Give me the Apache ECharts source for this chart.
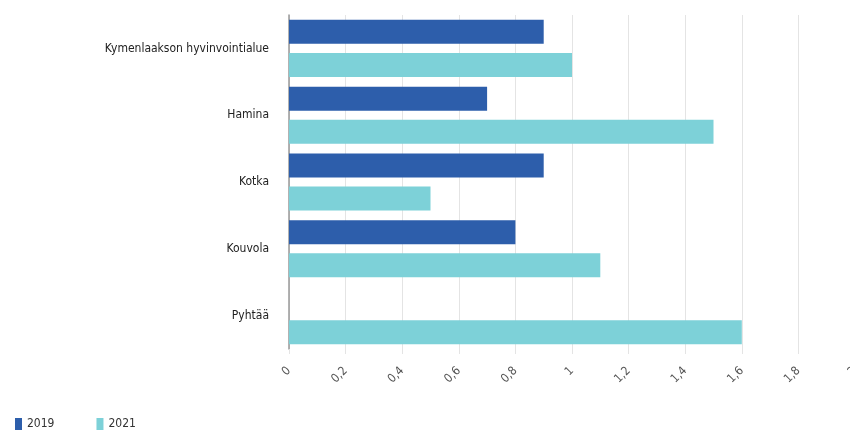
<!DOCTYPE html>
<html>
<head>
<meta charset="utf-8">
<script src="https://cdn.jsdelivr.net/npm/echarts@6/dist/echarts.min.js"></script>
<style>
  html, body { margin: 0; padding: 0; background: #fff; }
  #chart { width: 850px; height: 437px; }
</style>
</head>
<body>
<div id="chart"></div>
<script>
var categories = ['Kymenlaakson hyvinvointialue', 'Hamina', 'Kotka', 'Kouvola', 'Pyhtää'];
var values2019 = [0.9, 0.7, 0.9, 0.8, null];
var values2021 = [1.0, 1.5, 0.5, 1.1, 1.6];
var seriesNames = ['2019', '2021'];

var font = '"Liberation Sans Narrow", "DejaVu Sans Condensed", sans-serif';
var myChart = echarts.init(document.getElementById('chart'));

var option = {
    animation: false,
    textStyle: { fontFamily: font },
    legend: {
        left: 10,
        bottom: 2,
        itemWidth: 7,
        itemHeight: 12,
        itemGap: 42,
        icon: 'rect',
        textStyle: { fontFamily: font, fontSize: 12, color: '#333' },
        data: seriesNames
    },
    grid: {
        left: 289,
        right: -5,
        top: 15,
        bottom: 88,
        outerBoundsMode: 'none'
    },
    xAxis: {
        type: 'value',
        min: 0,
        max: 2,
        interval: 0.2,
        axisLine: { show: false },
        axisTick: { show: true, length: 5, lineStyle: { color: '#e4e4e4' } },
        splitLine: { show: true, lineStyle: { color: '#e4e4e4' } },
        axisLabel: {
            rotate: 45,
            margin: 20,
            color: '#555',
            fontSize: 12,
            fontFamily: font,
            formatter: function (v) { return String(+v.toFixed(1)).replace('.', ','); }
        }
    },
    yAxis: {
        type: 'category',
        inverse: true,
        data: categories,
        axisLine: { show: true, lineStyle: { color: '#999', width: 1.5 } },
        axisTick: { show: false },
        axisLabel: { color: '#222', fontSize: 12, margin: 20, fontFamily: font }
    },
    series: [
        {
            name: seriesNames[0],
            type: 'bar',
            data: values2019,
            barWidth: 24,
            barGap: '38%',
            itemStyle: { color: '#2d5eab' }
        },
        {
            name: seriesNames[1],
            type: 'bar',
            data: values2021,
            barWidth: 24,
            itemStyle: { color: '#7dd1d8' }
        }
    ]
};
myChart.setOption(option);
</script>
</body>
</html>
